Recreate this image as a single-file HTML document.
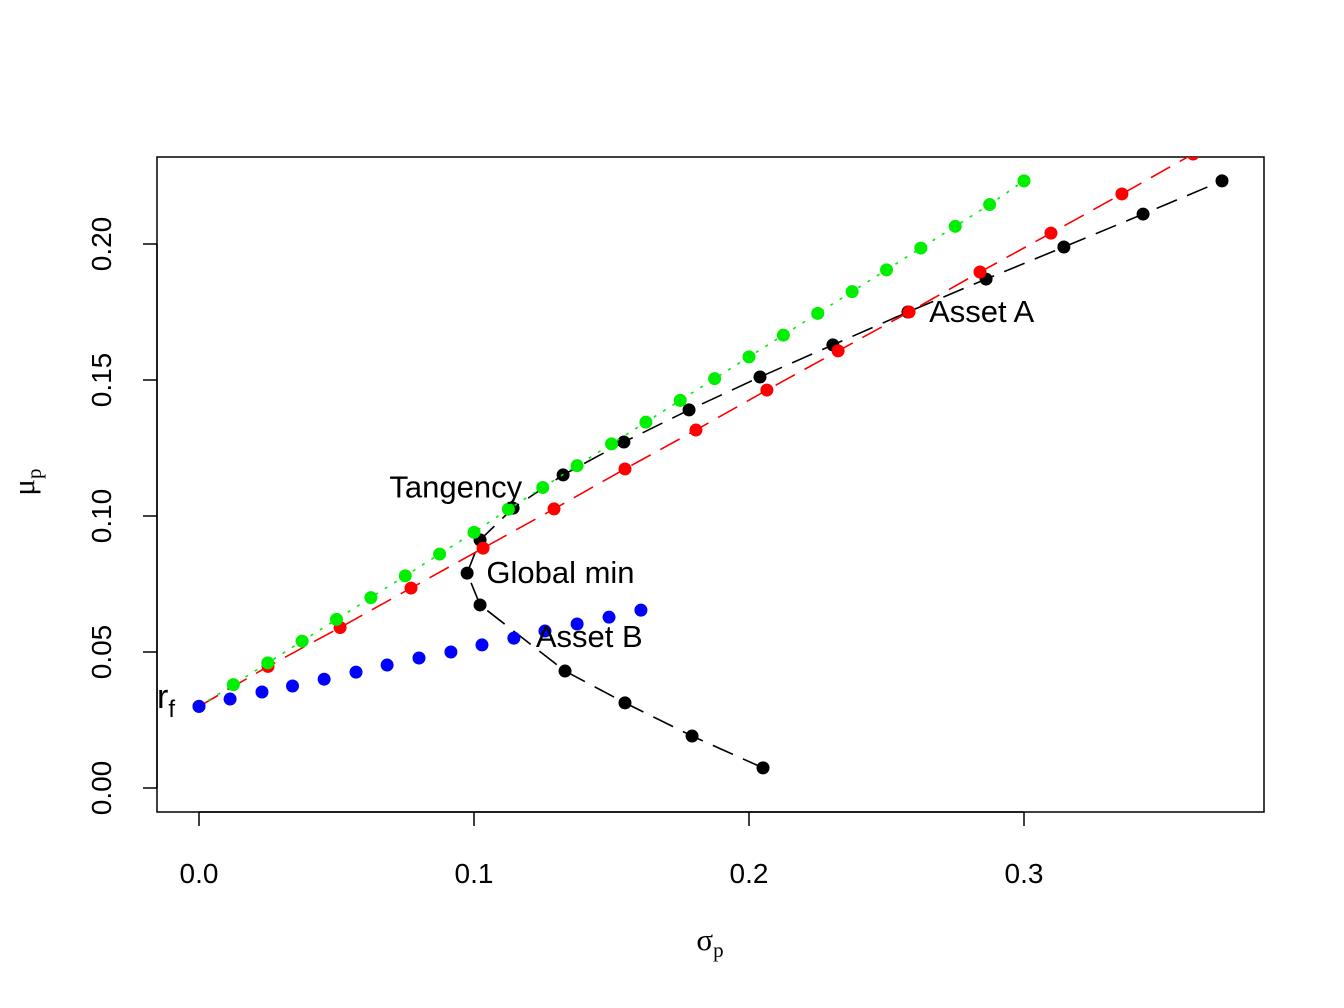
<!DOCTYPE html>
<html><head><meta charset="utf-8"><style>
html,body{margin:0;padding:0;background:#fff;}
svg{display:block;font-family:"Liberation Sans",Arial,sans-serif;}
</style></head><body>
<svg id="chart" width="1344" height="1008" viewBox="0 0 1344 1008">
<defs><clipPath id="plotclip"><rect x="157" y="157" width="1107" height="655"/></clipPath></defs>
<rect x="157" y="157" width="1107" height="655" fill="none" stroke="#000" stroke-width="1.5"/>
<g id="xaxis"></g>
<g id="yaxis"></g>
<g id="series" clip-path="url(#plotclip)"></g>
<g id="labels"></g>
<text x="710" y="950" font-size="31" font-family="Liberation Serif,serif" text-anchor="middle">σ<tspan font-size="21" dy="7">p</tspan></text>
<text transform="translate(34,482) rotate(-90)" font-size="31" font-family="Liberation Serif,serif" text-anchor="middle">μ<tspan font-size="21" dy="7">p</tspan></text>
</svg>
<script>
const xTicks=[0,0.1,0.2,0.3];
const xTickLabels=["0.0","0.1","0.2","0.3"];
const yTicks=[0,0.05,0.1,0.15,0.2];
const yTickLabels=["0.00","0.05","0.10","0.15","0.20"];
const frontierX=[.2051,.1793,.1549,.1331,.1022,.0975,.1022,.1142,.1324,.1545,.1782,.204,.2305,.2578,.2862,.3145,.3433,.372];
const frontierY=[.0074,.0191,.0313,.043,.0673,.079,.0912,.1029,.1151,.1272,.139,.1511,.1629,.175,.1871,.1989,.211,.2232];
const assetALineX=[0,.0251,.0513,.0771,.1033,.1291,.1549,.1807,.2065,.2324,.2582,.284,.3098,.3356,.3615,.3873];
const assetALineY=[.03,.0447,.059,.0735,.0882,.1026,.1173,.1316,.1463,.1607,.175,.1897,.204,.2184,.2331,.2474];
const tangencyLineX=[0,.0125,.025,.0375,.05,.0625,.075,.0875,.1,.1125,.125,.1375,.15,.1625,.175,.1875,.2,.2125,.225,.2375,.25,.2625,.275,.2875,.3];
const tangencyLineY=[.03,.038,.046,.054,.062,.070,.078,.086,.094,.1025,.1105,.1185,.1265,.1345,.1425,.1505,.1585,.1665,.1745,.1825,.1905,.1985,.2065,.2145,.2232];
const assetBLineX=[0,.0113,.0229,.034,.0455,.0571,.0684,.08,.0916,.1029,.1145,.1258,.1375,.1491,.1607];
const assetBLineY=[.03,.0327,.0353,.0375,.04,.0426,.0452,.0478,.05,.0526,.0551,.0577,.0603,.0628,.0654];
const ann=[["Asset A",.2655,.175,"start"],["Asset B",.1225,.0555,"start"],["Global min",.1045,.079,"start"],["Tangency",.1175,.1105,"end"],];

const sx=v=>199+v*2750, sy=v=>788-v*2720;
const NS="http://www.w3.org/2000/svg";
function mk(t,a,p){const e=document.createElementNS(NS,t);for(const k in a)e.setAttribute(k,a[k]);p.appendChild(e);return e;}
const xa=document.getElementById('xaxis'), ya=document.getElementById('yaxis');
mk('line',{x1:sx(0),x2:sx(0.3),y1:812,y2:812,stroke:'#000','stroke-width':1.5},xa);
xTicks.forEach((v,i)=>{
  const l=mk('line',{x1:sx(v),x2:sx(v),y1:812,y2:826,stroke:'#000','stroke-width':1.5},xa);
  
  
  const t=mk('text',{x:sx(v),y:883,'font-size':28,'text-anchor':'middle'},xa);t.textContent=xTickLabels[i];
  
  
});
mk('line',{x1:157,x2:157,y1:sy(0),y2:sy(0.2),stroke:'#000','stroke-width':1.5},ya);
yTicks.forEach((v,i)=>{
  const l=mk('line',{x1:143,x2:157,y1:sy(v),y2:sy(v),stroke:'#000','stroke-width':1.5},ya);
  
  
  const t=mk('text',{transform:`translate(111,${sy(v)}) rotate(-90)`,'font-size':28,'text-anchor':'middle'},ya);t.textContent=yTickLabels[i];
  
  
});
const sg=document.getElementById('series');
function series(xs,ys,col,dash,name,line){
  const g=mk('g',{},sg);
  
  
  if(line){
    const p=mk('polyline',{points:xs.map((x,i)=>sx(x)+','+sy(ys[i])).join(' '),fill:'none',stroke:col,'stroke-width':1.6,'stroke-dasharray':dash},g);
    
    
  }
  xs.forEach((x,i)=>{
    const c=mk('circle',{cx:sx(x),cy:sy(ys[i]),r:6.5,fill:col},g);
    
    
  });
}
series(frontierX,frontierY,'#000','22 11','frontier',true);
series(assetALineX,assetALineY,'#ff0000','22 11','asset-a-line',true);
series(tangencyLineX,tangencyLineY,'#00ee00','3 8','tangency-line',true);
series(assetBLineX,assetBLineY,'#0000ff','','asset-b-line',false);
const lg=document.getElementById('labels');
ann.forEach(a=>{
  const t=mk('text',{x:sx(a[1]),y:sy(a[2])+10,'font-size':31,'text-anchor':a[3]},lg);t.textContent=a[0];
  
  
});
const rf=mk('text',{x:157,y:708,'font-size':34},lg);


rf.innerHTML='r<tspan font-size="24" dy="9">f</tspan>';
</script>
</body></html>
